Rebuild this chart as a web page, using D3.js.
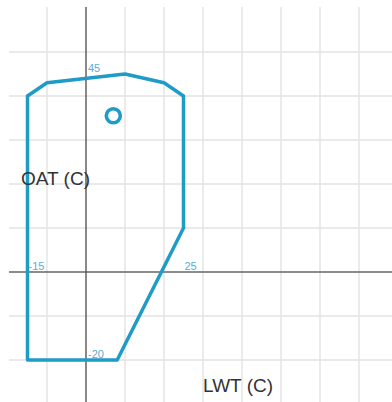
<!DOCTYPE html>
<html>
<head>
<meta charset="utf-8">
<script src="https://cdn.jsdelivr.net/npm/d3@7"></script>
<style>
html,body{margin:0;padding:0;background:#fff;}
svg{display:block;}
</style>
</head>
<body>
<svg id="c" width="392" height="402"></svg>
<script>
// Envelope polygon (LWT °C, OAT °C)
const envelopeLWT = [-15, 8, 25, 25, 20, 10, -10, -15];
const envelopeOAT = [-20, -20, 10, 40, 43, 45, 43, 40];
// Operating point marker
const pointLWT = [7];
const pointOAT = [35.5];
// Axis tick labels shown
const xTickLabels = [-15, 25];
const yTickLabels = [45, -20];
const gridStep = 10;

const W = 392, H = 402;
const svg = d3.select("#c");
const x = d3.scaleLinear().domain([-20, 78.46]).range([8, 392]);
const y = d3.scaleLinear().domain([-29.55, 60]).range([402, 8]);

const gx = d3.range(-10, 80, gridStep);
const gy = d3.range(-20, 60, gridStep);

const grid = svg.append("g").attr("stroke", "#e3e3e3").attr("stroke-width", 1.4);
grid.selectAll("line.v").data(gx.filter(d => d !== 0)).join("line")
  .attr("x1", d => x(d)).attr("x2", d => x(d))
  .attr("y1", y(60) - 1).attr("y2", H);
grid.selectAll("line.h").data(gy.filter(d => d !== 0)).join("line")
  .attr("x1", x(-20) + 1).attr("x2", W)
  .attr("y1", d => y(d)).attr("y2", d => y(d));

// axes through origin
svg.append("line").attr("x1", x(-20) + 1).attr("x2", W).attr("y1", y(0)).attr("y2", y(0))
  .attr("stroke", "#666").attr("stroke-width", 1.4);
svg.append("line").attr("x1", x(0)).attr("x2", x(0)).attr("y1", y(60) - 1).attr("y2", H)
  .attr("stroke", "#555").attr("stroke-width", 1.4);

// envelope
const pts = envelopeLWT.map((v, i) => [x(v), y(envelopeOAT[i])]);
svg.append("path")
  .attr("d", d3.line()(pts) + "Z")
  .attr("fill", "none")
  .attr("stroke", "#1f9bc7")
  .attr("stroke-width", 3.5)
  .attr("stroke-linejoin", "round");

svg.selectAll("circle.pt").data(pointLWT).join("circle")
  .attr("cx", d => x(d)).attr("cy", (d, i) => y(pointOAT[i]))
  .attr("r", 7).attr("fill", "none")
  .attr("stroke", "#1f9bc7").attr("stroke-width", 3.6);

// tick labels
const tickStyle = s => s.attr("font-family", "Liberation Sans, Arial, sans-serif")
  .attr("font-size", 11).attr("fill", "#5aaed0");
svg.selectAll("text.xt").data(xTickLabels).join("text")
  .attr("x", d => x(d) + 1).attr("y", y(0) - 2)
  .text(d => d).call(tickStyle);
svg.selectAll("text.yt").data(yTickLabels).join("text")
  .attr("x", x(0) + 2).attr("y", d => y(d) - 2)
  .text(d => d).call(tickStyle);

// axis titles
const titleStyle = s => s.attr("font-family", "Liberation Sans, Arial, sans-serif")
  .attr("font-size", 19).attr("fill", "#333");
svg.append("text").attr("x", 21).attr("y", 185).text("OAT (C)").call(titleStyle);
svg.append("text").attr("x", 203).attr("y", 392).text("LWT (C)").call(titleStyle);
</script>
</body>
</html>
